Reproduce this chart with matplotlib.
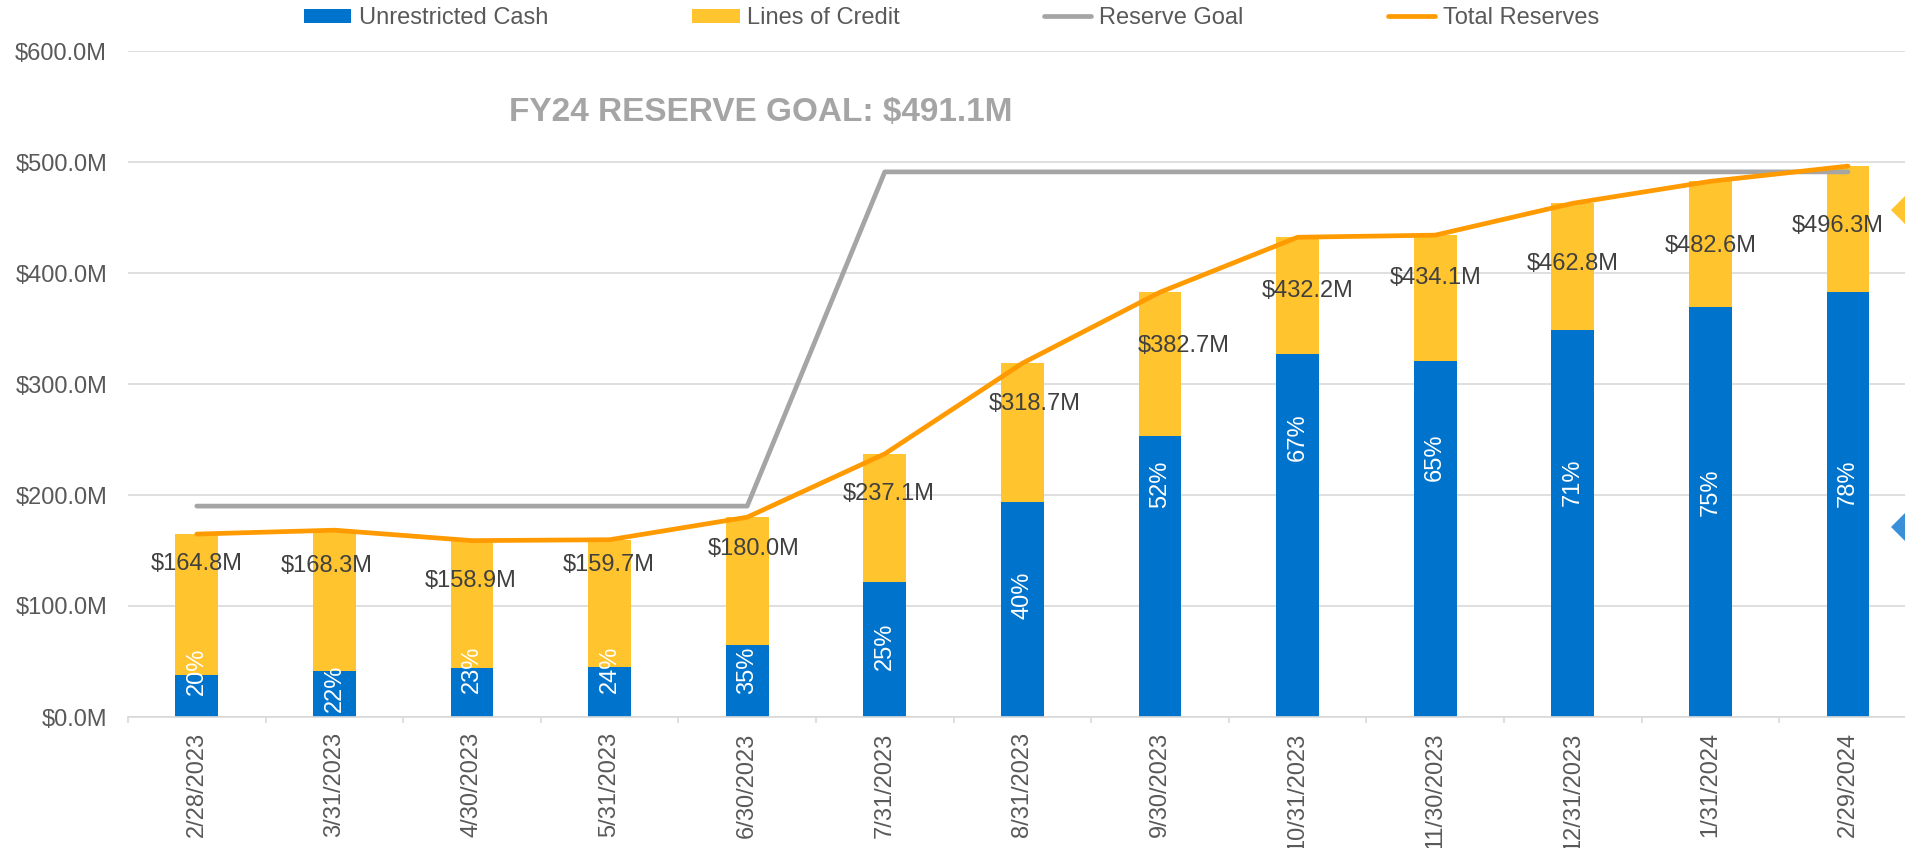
import matplotlib
matplotlib.use("Agg")
import matplotlib.pyplot as plt
import numpy as np
from matplotlib.transforms import blended_transform_factory

plt.rcParams['font.family'] = ['Liberation Sans', 'DejaVu Sans']

# data ($M)
dates = ['2/28/2023', '3/31/2023', '4/30/2023', '5/31/2023', '6/30/2023', '7/31/2023',
         '8/31/2023', '9/30/2023', '10/31/2023', '11/30/2023', '12/31/2023', '1/31/2024',
         '2/29/2024']
unrestricted_cash = [37.8, 41.4, 44.1, 45.0, 64.8, 121.5, 193.5, 253.0, 327.0, 320.7,
                     349.0, 369.0, 382.5]
total_reserves = [164.8, 168.3, 158.9, 159.7, 180.0, 237.1, 318.7, 382.7, 432.2, 434.1,
                  462.8, 482.6, 496.3]
reserve_goal = [190.0, 190.0, 190.0, 190.0, 190.0, 491.1, 491.1, 491.1, 491.1, 491.1,
                491.1, 491.1, 491.1]
pct_of_goal = ['20%', '22%', '23%', '24%', '35%', '25%', '40%', '52%', '67%', '65%',
               '71%', '75%', '78%']
side_marks = [457, 171]   # half-cut diamonds at the right edge

lines_of_credit = np.array(total_reserves) - np.array(unrestricted_cash)

# label placement (pixels: dx, dy below the total point) as in the reference
total_label_offsets = [(0, 30), (-8, 36), (-1, 40), (-1, 25), (6, 32), (4, 40), (12, 41),
                       (24, 54), (10, 54), (0, 43), (0, 61), (0, 65), (-10, 60)]
pct_label_y = [41, 26, 43, 43, 42, 63.5, 110, 210, 252, 234, 211.5, 202.5, 211]

BLUE = '#0074CC'
YELLOW = '#FFC42E'
GRAY = '#A5A5A5'
ORANGE = '#FF9A00'
GRID = '#D9D9D9'
TICK = '#595959'
LABEL = '#404040'

W, H = 1905, 848
fig = plt.figure(figsize=(W / 100, H / 100), dpi=100)
ax = fig.add_axes([128 / W, 1 - 717 / H, 13 * 137.6 / W, 666 / H])

x = np.arange(len(dates))
b1 = ax.bar(x, unrestricted_cash, 0.31, color=BLUE, zorder=2)
b2 = ax.bar(x, lines_of_credit, 0.31, bottom=unrestricted_cash, color=YELLOW, zorder=2)
l1, = ax.plot(x, reserve_goal, color=GRAY, lw=3.4, solid_capstyle='round', zorder=3)
l2, = ax.plot(x, total_reserves, color=ORANGE, lw=3.4, solid_capstyle='round', zorder=4)

ax.set_xlim(-0.5, 12.5)
ax.set_ylim(0, 600)
yt = np.arange(0, 601, 100)
ax.set_yticks(yt, [f'\\${v:.1f}M' for v in yt])
ax.yaxis.grid(True, color=GRID, lw=1.2)
ax.set_axisbelow(True)
for s in ['top', 'right', 'left']:
    ax.spines[s].set_visible(False)
ax.spines['bottom'].set_color(GRID)
ax.spines['bottom'].set_linewidth(1.2)
ax.tick_params(axis='y', length=0, pad=15, labelsize=17, labelcolor=TICK)

ax.set_xticks(x, dates, rotation=90)
ax.tick_params(axis='x', which='major', length=0, pad=11, labelsize=17, labelcolor=TICK)
ax.set_xticks(np.arange(-0.5, len(dates), 1), minor=True)
ax.tick_params(axis='x', which='minor', length=4.5, width=1.2, color=GRID)

for i, (t, (dx, dy)) in enumerate(zip(total_reserves, total_label_offsets)):
    ax.annotate(f'\\${t:.1f}M', (i, t), xytext=(dx, -dy), textcoords='offset pixels',
                ha='center', va='center', fontsize=17, color=LABEL, zorder=6)

for i, (p, y) in enumerate(zip(pct_of_goal, pct_label_y)):
    ax.text(i, y, p, rotation=90, ha='center', va='center', color='white',
            fontsize=17, zorder=6)

fig.text(761 / W, 1 - 113 / H, 'FY24 RESERVE GOAL: \\$491.1M', fontsize=24,
         fontweight='bold', color=GRAY, ha='center', va='center')

fig.legend([b1, b2, l1, l2],
           ['Unrestricted Cash', 'Lines of Credit', 'Reserve Goal', 'Total Reserves'],
           loc='center left', bbox_to_anchor=(304 / W, 1 - 18 / H), ncol=4,
           frameon=False, fontsize=17, handlelength=2.0, handleheight=0.55,
           handletextpad=0.33, columnspacing=6.1, borderpad=0, borderaxespad=0,
           labelcolor=TICK)

# cropped diamonds on the right edge
tr = blended_transform_factory(fig.transFigure, ax.transData)
for v, c in zip(side_marks, [YELLOW, '#3A8FD9']):
    ax.plot([1.0], [v], marker='D', ms=14, mew=0, color=c, ls='none',
            transform=tr, clip_on=False, zorder=7)

fig.savefig('out.png', dpi=100)
